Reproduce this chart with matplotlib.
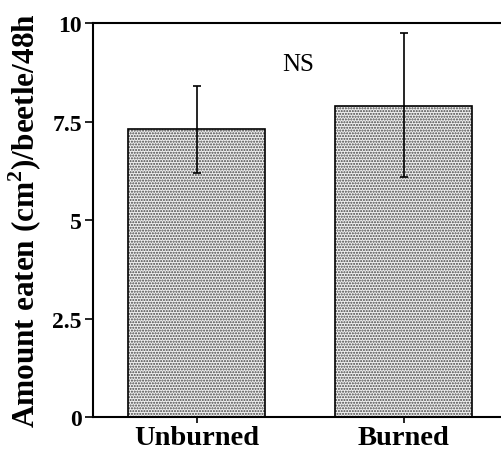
import matplotlib
matplotlib.use('Agg')
import matplotlib.pyplot as plt
import numpy as np

# data
groups = ['Unburned', 'Burned']
eaten = [7.3, 7.9]
err_up = [1.1, 1.85]
err_down = [1.1, 1.8]
yticks = [0, 2.5, 5, 7.5, 10]
ytick_labels = ['0', '2.5', '5', '7.5', '10']

plt.rcParams['font.family'] = ['Liberation Serif', 'DejaVu Serif']
plt.rcParams['mathtext.fontset'] = 'custom'
plt.rcParams['mathtext.bf'] = 'Liberation Serif:bold'
plt.rcParams['mathtext.rm'] = 'Liberation Serif:bold'
plt.rcParams['hatch.linewidth'] = 1.0

fig = plt.figure(figsize=(5.01, 4.52), dpi=100)
ax = fig.add_axes([0.1856, 0.0752, 0.8144, 0.8717])

x = np.arange(len(groups))
# stipple fill first, then black outline on top
ax.bar(x, eaten, width=0.66, color='#f0f0f0', edgecolor='#444444',
       hatch='......', linewidth=0, zorder=2)
ax.bar(x, eaten, width=0.66, fill=False, edgecolor='black',
       linewidth=1.2, zorder=2)
ax.errorbar(x, eaten, yerr=[err_down, err_up], fmt='none', ecolor='black',
            elinewidth=1.2, capsize=3, capthick=1.2, zorder=3)

ax.text(0.49, 8.96, 'NS', ha='center', va='center', fontsize=18)

ax.set_xlim(-0.5, 1.47)
ax.set_ylim(0, 10)
ax.set_yticks(yticks)
ax.set_yticklabels(ytick_labels, fontsize=17, fontweight='bold')
ax.set_xticks(x)
ax.set_xticklabels(groups, fontsize=20.5, fontweight='bold')
ax.set_ylabel('Amount eaten (cm$^{2}$)/beetle/48h', fontsize=22.5,
              fontweight='bold', labelpad=6)

ax.spines['right'].set_visible(False)
for s in ['left', 'bottom', 'top']:
    ax.spines[s].set_linewidth(1.5)
ax.tick_params(axis='both', direction='out', length=6, width=1.2)
ax.tick_params(axis='x', length=4, pad=2)
ax.tick_params(axis='y', pad=2)

fig.savefig('out.png', dpi=100)
